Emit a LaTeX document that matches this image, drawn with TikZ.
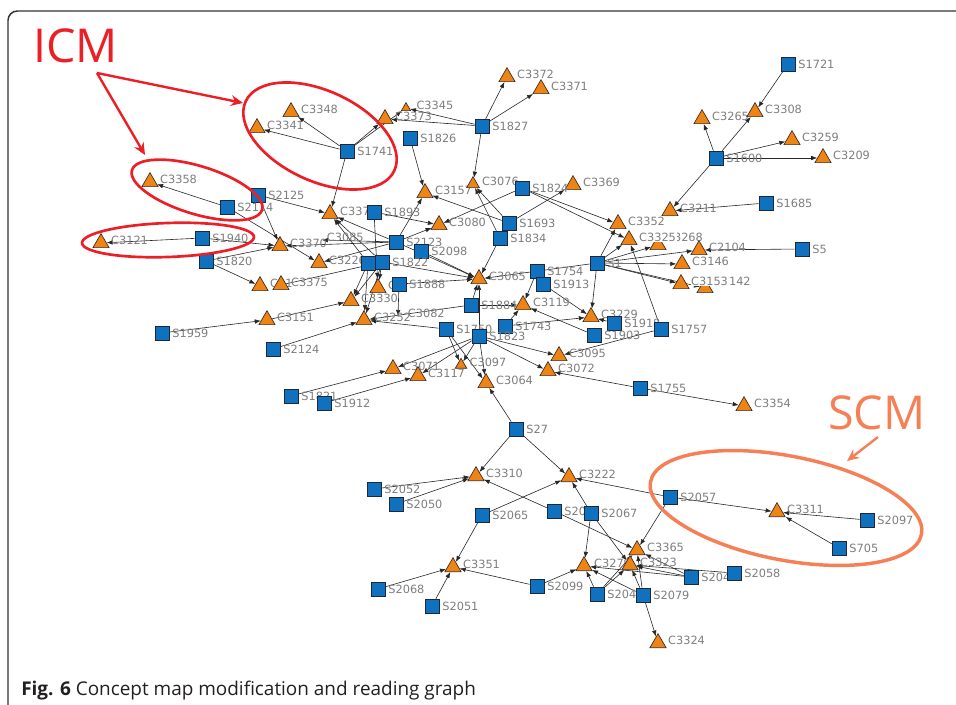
\documentclass[tikz,border=0pt]{standalone}
\usepackage{fontspec}
\newfontfamily\lblfont{DejaVu Sans}
\newfontfamily\capfont{Open Sans}
\usetikzlibrary{shapes.geometric,arrows.meta,backgrounds}
\definecolor{sqblue}{RGB}{16,114,190}
\definecolor{trior}{RGB}{238,132,22}
\definecolor{labgray}{RGB}{125,125,125}
\definecolor{icmred}{RGB}{236,30,38}
\definecolor{scmor}{RGB}{246,128,86}
\definecolor{capgray}{RGB}{35,31,32}
\tikzset{
  sq/.style={rectangle, draw={rgb,255:red,30;green,40;blue,60}, line width=0.5pt, fill=sqblue, minimum size=10.5pt, inner sep=0pt},
  tri/.style={regular polygon, regular polygon sides=3, draw={rgb,255:red,60;green,40;blue,30}, line width=0.5pt, fill=trior, minimum size=14pt, inner sep=0pt},
  smalltri/.style={tri, minimum size=8pt},
  lbl/.style={font=\lblfont\fontsize{8.5}{9.5}\selectfont, text=labgray, inner sep=0.5pt},
  sl/.style={lbl, xshift=1.6pt},
  tl/.style={lbl, xshift=2.6pt, yshift=2pt},
  edg/.style={draw=black!85, line width=0.45pt, -{Latex[length=4.5pt,width=3.4pt]}},
  redarrow/.style={draw=icmred, line width=1.8pt, -{Stealth[length=9pt,width=8pt]}},
  redell/.style={draw=icmred, line width=2pt},
  scmell/.style={draw=scmor, line width=2.6pt},
  scmarrow/.style={draw=scmor, line width=1.8pt, -{Stealth[length=9pt,width=8pt]}},
  frame/.style={draw=black!80, line width=1.1pt, rounded corners=7pt}
}
\newcommand\SQ[3]{\node[sq,label={[sl]0:#1}] (#1) at (#2,#3) {};}
\newcommand\TR[3]{\node[tri,label={[tl]0:#1}] (#1) at (#2,#3) {};}
\begin{document}
\begin{tikzpicture}[x=0.75pt,y=-0.75pt]
\useasboundingbox (0,0) rectangle (956,705);
\draw[frame] (8,706) -- (8,11) -- (957,11);

% ---- triangles
\TR{C3372}{507}{77}
\TR{C3371}{541}{89}
\node[smalltri,label={[tl,xshift=2pt]0:C3345}] (C3345) at (406,108) {};
\TR{C3373}{385}{119}
\TR{C3348}{291}{112}
\TR{C3341}{257}{128}
\TR{C3358}{150}{182}
\TR{C3121}{101}{243}
\TR{C3157}{425}{193}
\node[tri,minimum size=11pt,label={[tl]0:C3076}] (C3076) at (473,184) {};
\TR{C3369}{573}{185}
\TR{C3080}{439}{225}
\TR{C3352}{618}{224}
\node[tri,label={[lbl,xshift=7pt,yshift=5.8pt]0:3268}] (C3268) at (658,245) {};
\node[tri,label={[tl,fill=white]0:C3325}] (C3325) at (629,240) {};
\TR{C2104}{699}{250}
\TR{C3146}{682}{264}
\node[tri,label={[lbl,xshift=13pt,yshift=5pt]0:142}] (C3142) at (705,288) {};
\node[tri,label={[tl,fill=white]0:C3153}] (C3153) at (681,284) {};
\TR{C3229}{591}{317}
\TR{C3211}{670}{211}
\TR{C3265}{702}{119}
\TR{C3308}{755}{112}
\TR{C3259}{792}{140}
\TR{C3209}{823}{158}
\TR{C3065}{479}{279}
\TR{C3119}{523}{305}
\TR{C3095}{559}{356}
\TR{C3072}{548}{371}
\node[tri,minimum size=10pt,label={[tl]0:C3097}] (C3097) at (461,365) {};
\TR{C3064}{486}{383}
\TR{C3071}{393}{369}
\TR{C3117}{418}{376}
\node[tri,label={[tl]0:C337}] (C3337) at (330,214) {};
\TR{C3370}{280}{246}
\TR{C3226}{319}{263}
\node[tri,label={[tl]0:C31}] (C31) at (260,286) {};
\TR{C3375}{281}{285}
\node[tri,label={[tl]0:C}] (C33x) at (378,288) {};
\TR{C3330}{351}{301}
\TR{C3252}{364}{320}
\TR{C3151}{267}{320}
\TR{C3354}{744}{406}
\TR{C3310}{476}{476}
\TR{C3222}{569}{477}
\TR{C3311}{777}{512}
\TR{C3365}{637}{550}
\TR{C3279}{584}{566}
\TR{C3323}{630}{565}
\TR{C3351}{453}{567}
\TR{C3324}{658}{643}
\coordinate (c3085) at (322,240);
\coordinate (c3082) at (398,316);
\node[lbl,anchor=west] (t3085) at (326,237) {C3085};
\node[lbl,anchor=west] (t3082) at (407,313) {C3082};

% ---- squares
\SQ{S1721}{788}{64}
\SQ{S1600}{716}{158}
\SQ{S1685}{766}{203}
\SQ{S5}{802}{249}
\SQ{S1}{597}{263}
\SQ{S1741}{347}{151}
\SQ{S1827}{482}{126}
\SQ{S1826}{410}{138}
\SQ{S1824}{522}{188}
\SQ{S1693}{509}{223}
\SQ{S1834}{500}{238}
\SQ{S2125}{258}{195}
\SQ{S2114}{227}{207}
\SQ{S1940}{202}{238}
\SQ{S1820}{206}{261}
\SQ{S1893}{374}{212}
\SQ{S2123}{396}{242}
\SQ{S2098}{421}{251}
\node[sq] (Sx1) at (368,263) {};
\SQ{S1822}{382}{262}
\SQ{S1888}{399}{284}
\SQ{S1754}{537}{271}
\SQ{S1913}{543}{284}
\SQ{S1884}{471}{305}
\SQ{S1743}{505}{326}
\SQ{S1750}{446}{329}
\SQ{S1823}{479}{336}
\SQ{S1918}{614}{323}
\SQ{S1903}{594}{335}
\SQ{S1757}{661}{329}
\SQ{S1755}{640}{388}
\SQ{S1959}{162}{333}
\SQ{S2124}{273}{349}
\SQ{S1821}{291}{396}
\SQ{S1912}{324}{403}
\SQ{S27}{516}{429}
\SQ{S2052}{374}{489}
\SQ{S2050}{396}{504}
\SQ{S2065}{482}{515}
\SQ{S2055}{554}{511}
\SQ{S2067}{591}{513}
\SQ{S2057}{670}{497}
\SQ{S2097}{867}{520}
\SQ{S705}{839}{548}
\SQ{S2099}{537}{586}
\SQ{S2068}{378}{589}
\SQ{S2051}{432}{606}
\SQ{S2048}{597}{594}
\SQ{S2079}{643}{595}
\node[sq,label={[sl]0:S204}] (S204x) at (691,577) {};
\SQ{S2058}{734}{573}

% ---- connectors
\begin{scope}[on background layer]
\foreach \a/\b in {
 S1741/C3341, S1741/C3348, S1741/C3373, S1741/C3345, S1741/C3337,
 S1827/C3372, S1827/C3371, S1827/C3373, S1827/C3345, S1827/C3076,
 S1826/C3157, S2114/C3358, S1940/C3121, S1940/C3370,
 S2125/C3337, S2125/C3370, S2114/C3226, S1820/C31, S1820/C3370,
 S1959/C3151, S2124/C3252, C3151/C3330, S1821/C3071, S1912/C3117,
 S1893/C3080, S2123/C3080, S2123/C3157, S1693/C3157, S1693/C3076,
 S1834/C3076, S1824/C3080, S1824/C3325, S1824/C3352, S1693/C3369,
 S1834/C3065, S1/C3352, S1/C3325, S1/C3268, S1/C2104, S1/C3146,
 S1/C3153, S1/C3142, S1/C3229, S1/C3065, S1757/C3325, S1757/C3095,
 S1918/C3229, S1903/C3119, S1913/C3229, S1743/C3229, S1754/C3119,
 S1888/C3065, S2098/C3065, S1822/C3065, S2123/C3065, S1884/C3065,
 S1823/C3065, S1884/C3252, S1884/C3119, S1743/C3119, S1750/C3252,
 S1750/C3097, S1750/C3064, S1823/C3097, S1823/C3064, S1823/C3095,
 S1823/C3072, S1823/C3071, S1823/C3117, S27/C3064, S27/C3310,
 S27/C3222, S1755/C3354, S1755/C3072, S1685/C3211, S5/C2104,
 S1600/C3265, S1600/C3308, S1721/C3308, S1600/C3259, S1600/C3209,
 S1600/C3211, S2123/C3337, S1822/C3337, Sx1/C3337, S1893/C33x,
 S2123/C3370, S2123/c3085, S2123/C3226, S1822/C3330, Sx1/C3330,
 S1822/C33x, S1888/c3082, S1822/C3252, Sx1/C3252,
 S2052/C3310, S2050/C3310, S2055/C3310, S2065/C3222, S2065/C3351,
 S2068/C3351, S2051/C3351, S2099/C3351, S2057/C3222, S2067/C3222,
 S2057/C3311, S2097/C3311, S705/C3311, S2057/C3365, S2055/C3365,
 S2067/C3279, S2067/C3323, S2048/C3279, S2048/C3323, S2048/C3365,
 S2079/C3323, S2079/C3365, S2079/C3324, S2079/C3279, S204x/C3323,
 S204x/C3279, S204x/C3365, S2058/C3323, S2099/C3279}
 \draw[edg] (\a) -- (\b);
\draw[draw=black!85, line width=0.45pt] (S1822) -- (C3375);
\end{scope}

% ---- annotations
\node[anchor=base west, inner sep=0pt, text=icmred, font=\capfont\fontsize{35}{40}\selectfont] (icm) at (33,63) {ICM};
\coordinate (icmtail) at (97,73);
\coordinate (icmA) at (243,103);
\coordinate (icmB) at (145,155);
\draw[redarrow] (icmtail) -- (icmA);
\draw[redarrow] (icmtail) -- (icmB);
\draw[redell, rotate around={-25:(320,136)}] (320,136) ellipse (61.5pt and 33.75pt);
\draw[redell, rotate around={-17:(197,190)}] (197,190) ellipse (51pt and 18pt);
\draw[redell, rotate around={2:(168,240)}] (168,240) ellipse (64.5pt and 12.75pt);
\node[anchor=base west, inner sep=0pt, text=scmor, font=\capfont\fontsize{35}{40}\selectfont] (scm) at (828,430) {SCM};
\coordinate (scmtail) at (878,437);
\coordinate (scmhead) at (847,461);
\draw[scmarrow] (scmtail) -- (scmhead);
\draw[scmell, rotate around={-11:(786,508)}] (786,508) ellipse (103.5pt and 39pt);

\node[anchor=base west, inner sep=0pt, text=capgray, font=\capfont\fontsize{14.2}{16}\selectfont] (cap) at (21,695) {\textbf{Fig. 6} Concept map modification and reading graph};
\end{tikzpicture}
\end{document}
